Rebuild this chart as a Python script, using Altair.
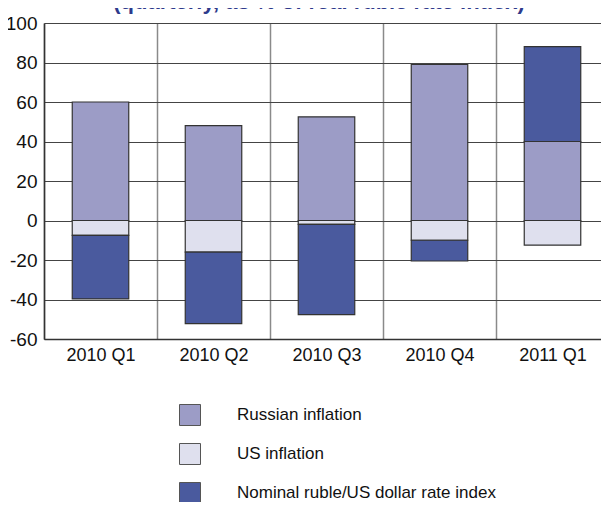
import altair as alt
import pandas as pd

quarters = ["2010 Q1", "2010 Q2", "2010 Q3", "2010 Q4", "2011 Q1"]
series = ["Russian inflation", "US inflation", "Nominal ruble/US dollar rate index"]
russian = [60, 48, 52.5, 79, 40]
us = [-7.5, -16, -2, -10, -12.5]
nominal = [-32.2, -36.2, -45.7, -10.5, 48]
colors = ["#9C9CC6", "#DFE0EE", "#4A5A9E"]
y_ticks = [-60, -40, -20, 0, 20, 40, 60, 80, 100]
title_text = "(quarterly, as % of real ruble rate index)"

FONT = "Liberation Sans Narrow, Liberation Sans, Arial, sans-serif"

rows = []
for i, q in enumerate(quarters):
    for k, (s, vals) in enumerate(zip(series, [russian, us, nominal])):
        rows.append({"quarter": q, "series": s, "value": vals[i], "order": k})
df = pd.DataFrame(rows)

bars = alt.Chart(df).mark_bar(stroke="#333333", strokeWidth=1.2,
                              width=alt.RelativeBandSize(0.5)).encode(
    x=alt.X("quarter:N", sort=quarters,
            scale=alt.Scale(paddingInner=0, paddingOuter=0),
            axis=alt.Axis(title=None, labelAngle=0, ticks=False, grid=True,
                          tickBand="extent", gridColor="#8a8a8a", gridWidth=1.5,
                          domainColor="#333333", domainWidth=1.5,
                          labelFont=FONT, labelFontSize=18, labelColor="#111111",
                          labelPadding=7)),
    y=alt.Y("value:Q", stack="zero",
            scale=alt.Scale(domain=[-60, 100], nice=False),
            axis=alt.Axis(title=None, values=y_ticks, ticks=False, grid=True,
                          gridColor="#444444", gridWidth=1,
                          domainColor="#333333", domainWidth=1.5,
                          labelExpr="'' + datum.value",
                          labelFont=FONT, labelFontSize=19, labelColor="#111111",
                          labelPadding=7)),
    color=alt.Color("series:N",
                    scale=alt.Scale(domain=series, range=colors),
                    legend=alt.Legend(title=None, orient="none", legendX=135, legendY=381,
                                      direction="vertical", symbolType="square",
                                      symbolSize=441, symbolStrokeColor="#555555",
                                      symbolStrokeWidth=1, labelFont=FONT,
                                      labelFontSize=17, labelColor="#111111",
                                      labelLimit=0,
                                      labelOffset=36, rowPadding=13)),
    order=alt.Order("order:Q"),
)

title = alt.Chart(pd.DataFrame({"t": [title_text]})).mark_text(
    font=FONT, fontSize=22, fontWeight="bold", color="#2E3A8C",
    baseline="alphabetic", align="center"
).encode(text="t:N", x=alt.value(275), y=alt.value(-14))

chart = alt.layer(bars, title).properties(
    width=565, height=316,
    autosize=alt.AutoSizeParams(type="none"),
    padding={"left": 36, "top": 15, "right": -8, "bottom": 163},
).configure_view(stroke=None)

chart.save("out.html", embed_options={"renderer": "svg", "actions": False})
